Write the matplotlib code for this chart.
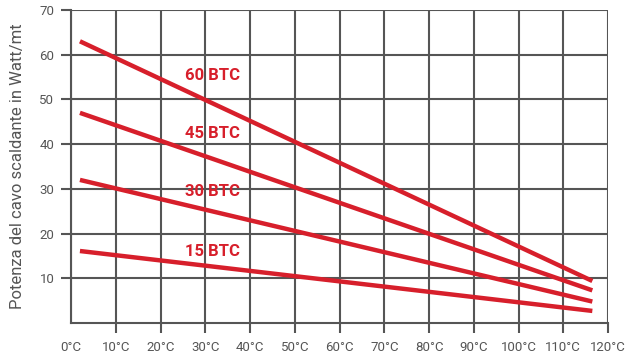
import matplotlib
matplotlib.use("Agg")
import matplotlib.pyplot as plt

temps_start = [2, 2, 2, 2]
temps_end = [116.5, 116.5, 116.5, 116.5]
series = ["60 BTC", "45 BTC", "30 BTC", "15 BTC"]
start_vals = [63, 47, 32, 16.1]
end_vals = [9.4, 7.3, 4.8, 2.7]
label_pos = [(31.7, 55.3), (31.7, 42.3), (31.7, 29.3), (31.7, 16.1)]
xticks = list(range(0, 121, 10))
xlabels = [f"{t}°C" for t in xticks]
yticks = list(range(10, 71, 10))

red = "#d71f2b"
grey = "#555555"
plt.rcParams['font.family'] = ['Roboto', 'DejaVu Sans']

fig = plt.figure(figsize=(6.25, 3.6), dpi=100)
ax = fig.add_axes([71/625, 37/360, 537/625, 313/360])
ax.set_xlim(0, 120)
ax.set_ylim(0, 70)

for name, x0, x1, y0, y1, (lx, ly) in zip(series, temps_start, temps_end, start_vals, end_vals, label_pos):
    ax.plot([x0, x1], [y0, y1], color=red, lw=3.2, solid_capstyle='butt', zorder=3)
    ax.text(lx, ly, name, color=red, fontsize=12, fontweight='bold', ha='center', va='center', zorder=4)

ax.set_xticks(xticks)
ax.set_xticklabels(xlabels)
ax.set_yticks(yticks)
ax.grid(True, color=grey, lw=1.5, zorder=1)
for s in ax.spines.values():
    s.set_visible(False)
ax.spines['left'].set_visible(True)
ax.spines['bottom'].set_visible(True)
ax.spines['left'].set_color(grey)
ax.spines['bottom'].set_color(grey)
ax.spines['left'].set_linewidth(1.5)
ax.spines['bottom'].set_linewidth(1.5)
ax.tick_params(axis='both', colors=grey, width=1.5, length=7, labelsize=9.5, labelcolor=grey)
ax.tick_params(axis='x', pad=6)
ax.tick_params(axis='y', pad=5)
ax.xaxis.get_major_ticks()[0].tick1line.set_visible(False)
ax.set_ylabel("Potenza del cavo scaldante in Watt/mt", fontsize=12, color=grey, labelpad=10)
ax.set_axisbelow(True)
fig.savefig("out.png", dpi=100)
